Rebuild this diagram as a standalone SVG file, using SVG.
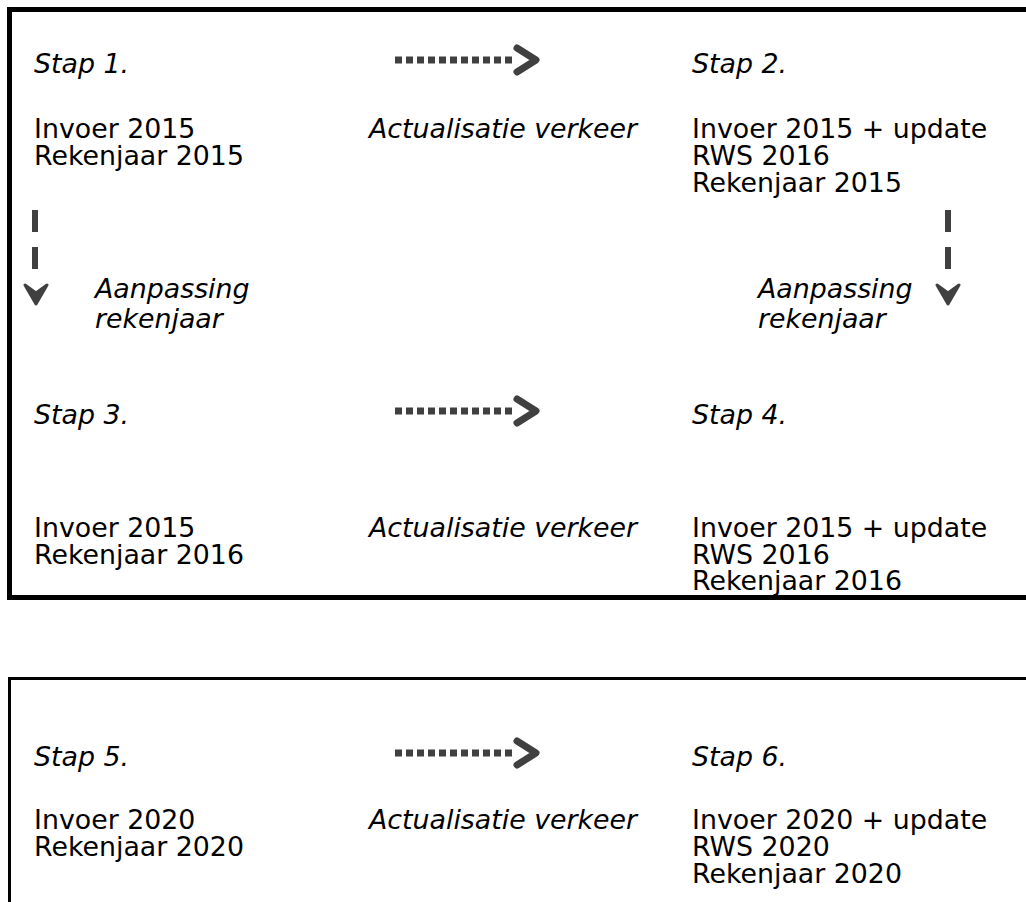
<svg xmlns="http://www.w3.org/2000/svg" width="1026" height="902" viewBox="0 0 1026 902">
<style>
text{font-family:"DejaVu Sans",Verdana,sans-serif;font-size:26.8px;fill:#000}
.i{font-style:italic}
.dot{stroke:#404040;stroke-width:7;stroke-dasharray:7 4;fill:none}
.chev{stroke:#404040;stroke-width:7;stroke-linecap:round;stroke-linejoin:round;fill:none}
.dash{stroke:#404040;stroke-width:6;fill:none}
.head{fill:#404040;stroke:#404040;stroke-width:3;stroke-linejoin:round}
</style>
<rect width="1026" height="902" fill="#fff"/>
<g id="frame1"><path d="M1030 9.5H9.5V597.5H1030" fill="none" stroke="#000" stroke-width="5"/></g>
<g id="frame2"><path d="M1030 678.5H9.5V910" fill="none" stroke="#000" stroke-width="3"/></g>
<g id="step1"><text x="34" y="73" class="i">Stap 1.</text><text x="34" y="138">Invoer 2015</text><text x="34" y="165">Rekenjaar 2015</text></g>
<g id="act1"><text x="369" y="138" class="i">Actualisatie verkeer</text></g>
<g id="step2"><text x="692" y="73" class="i">Stap 2.</text><text x="692" y="138">Invoer 2015 + update</text><text x="692" y="165">RWS 2016</text><text x="692" y="192">Rekenjaar 2015</text></g>
<g id="adj1"><text x="95" y="298" class="i">Aanpassing</text><text x="95" y="328" class="i">rekenjaar</text></g>
<g id="adj2"><text x="758" y="298" class="i">Aanpassing</text><text x="758" y="328" class="i">rekenjaar</text></g>
<g id="step3"><text x="34" y="424" class="i">Stap 3.</text><text x="34" y="537">Invoer 2015</text><text x="34" y="564">Rekenjaar 2016</text></g>
<g id="act2"><text x="369" y="537" class="i">Actualisatie verkeer</text></g>
<g id="step4"><text x="692" y="424" class="i">Stap 4.</text><text x="692" y="537">Invoer 2015 + update</text><text x="692" y="564">RWS 2016</text><text x="692" y="590">Rekenjaar 2016</text></g>
<g id="step5"><text x="34" y="766" class="i">Stap 5.</text><text x="34" y="829">Invoer 2020</text><text x="34" y="856">Rekenjaar 2020</text></g>
<g id="act3"><text x="369" y="829" class="i">Actualisatie verkeer</text></g>
<g id="step6"><text x="692" y="766" class="i">Stap 6.</text><text x="692" y="829">Invoer 2020 + update</text><text x="692" y="856">RWS 2020</text><text x="692" y="883">Rekenjaar 2020</text></g>
<g id="connectors">
<path class="dot" d="M395 60H516"/><path class="chev" d="M517 48L536 60L517 72"/>
<path class="dot" d="M395 411H516"/><path class="chev" d="M517 399L536 411L517 423"/>
<path class="dot" d="M395 753H516"/><path class="chev" d="M517 741L536 753L517 765"/>
<path class="dash" d="M35 210V232M35 247V269"/><path class="head" d="M25 285L36 293L47 285L36 304Z"/>
<path class="dash" d="M948 210V232M948 247V269"/><path class="head" d="M937 285L948 293L959 285L948 304Z"/>
</g>
</svg>
